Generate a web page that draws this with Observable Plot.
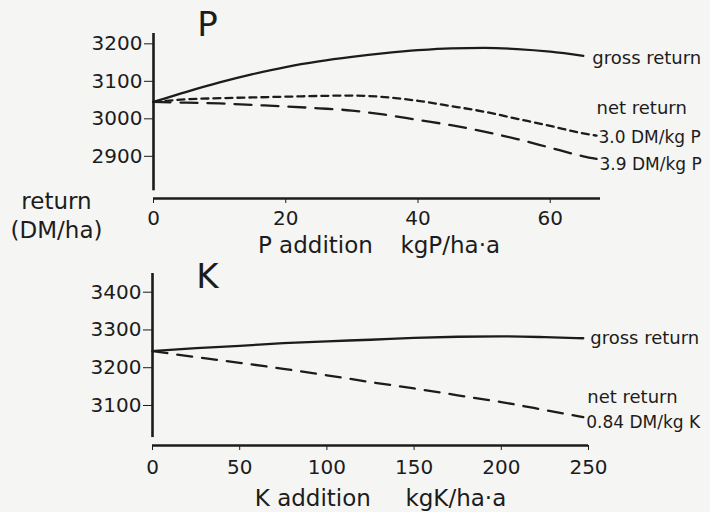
<!DOCTYPE html>
<html>
<head>
<meta charset="utf-8">
<script src="https://cdn.jsdelivr.net/npm/d3@7"></script>
<script src="https://cdn.jsdelivr.net/npm/@observablehq/plot@0.6"></script>
<style>
  html, body { margin: 0; padding: 0; background: #f5f5f3; }
  #chart { width: 710px; height: 512px; background: #f5f5f3; }
  #chart svg { display: block; overflow: visible; }
</style>
</head>
<body>
<div id="chart"></div>
<script>
// ---- P panel data ----
const pAddition = [0, 5, 10, 15, 20, 25, 30, 35, 40, 45, 50, 55, 60, 65];
const pGrossReturn = [3045, 3072, 3097, 3119, 3138, 3153, 3165, 3175, 3183, 3188, 3189, 3186, 3179, 3168];
const pNetAddition = [0, 5, 10, 15, 20, 25, 30, 35, 40, 45, 50, 55, 60, 65, 67];
const pNetReturn30 = [3045, 3052, 3055, 3057, 3059, 3061, 3062, 3058, 3048, 3034, 3019, 3000, 2981, 2961, 2955];
const pNetReturn39 = [3045, 3043, 3041, 3037, 3033, 3028, 3022, 3011, 2997, 2983, 2966, 2946, 2923, 2900, 2893];
const pXTicks = [0, 20, 40, 60];
const pYTicks = [2900, 3000, 3100, 3200];
const pXDomain = [0, 67.6];
const pYDomain = [2787.5, 3227.5];
const pYAxisBottom = 2808;

// ---- K panel data ----
const kAddition = [0, 25, 50, 75, 100, 125, 150, 175, 200, 225, 247];
const kGrossReturn = [3244, 3252, 3258, 3265, 3270, 3274, 3279, 3282, 3283, 3281, 3278];
const kNetReturn = [3244, 3228, 3213, 3197, 3180, 3162, 3145, 3127, 3109, 3088, 3069];
const kXTicks = [0, 50, 100, 150, 200, 250];
const kYTicks = [3100, 3200, 3300, 3400];
const kXDomain = [0, 250];
const kYDomain = [2994, 3449.5];
const kYAxisBottom = 3015;

const ink = "#1c1c1c";
const font = "DejaVu Sans";

const rows = (xs, ys) => xs.map((x, i) => ({x, y: ys[i]}));
const last = (xs, ys) => [{x: xs[xs.length - 1], y: ys[ys.length - 1]}];

const pGross = rows(pAddition, pGrossReturn);
const pNet30 = rows(pNetAddition, pNetReturn30);
const pNet39 = rows(pNetAddition, pNetReturn39);
const kGross = rows(kAddition, kGrossReturn);
const kNet = rows(kAddition, kNetReturn);

const fmt = d => String(d);

const plotP = Plot.plot({
  width: 710,
  height: 264,
  marginLeft: 153,
  marginRight: 110,
  marginTop: 33,
  marginBottom: 66,
  style: {fontFamily: font, fontSize: "20px", background: "transparent", color: ink},
  x: {domain: pXDomain, ticks: pXTicks, tickFormat: fmt, tickSize: 5, tickPadding: 7, label: null},
  y: {domain: pYDomain, ticks: pYTicks, tickFormat: fmt, tickSize: 9, tickPadding: 2, label: null},
  marks: [
    Plot.ruleX([0], {y1: pYAxisBottom, y2: pYDomain[1], stroke: ink, strokeWidth: 2.6}),
    Plot.ruleY([pYDomain[0]], {stroke: ink, strokeWidth: 2.6}),
    Plot.line(pGross, {x: "x", y: "y", stroke: ink, strokeWidth: 2.3, curve: "monotone-x"}),
    Plot.line(pNet30, {x: "x", y: "y", stroke: ink, strokeWidth: 2.3, strokeDasharray: "7,5", curve: "monotone-x"}),
    Plot.line(pNet39, {x: "x", y: "y", stroke: ink, strokeWidth: 2.3, strokeDasharray: "17,10", curve: "monotone-x"}),
    Plot.text(last(pAddition, pGrossReturn), {x: "x", y: "y", text: () => "gross return", dx: 9, dy: 2, textAnchor: "start", fontSize: 18, fill: ink}),
    Plot.text(last(pNetAddition, pNetReturn30), {x: "x", y: "y", text: () => "net return", dx: 0, dy: -27, textAnchor: "start", fontSize: 18, fill: ink}),
    Plot.text(last(pNetAddition, pNetReturn30), {x: "x", y: "y", text: () => "3.0 DM/kg P", dx: 2, dy: 2, textAnchor: "start", fontSize: 17, fill: ink}),
    Plot.text(last(pNetAddition, pNetReturn39), {x: "x", y: "y", text: () => "3.9 DM/kg P", dx: 3, dy: 6, textAnchor: "start", fontSize: 17, fill: ink}),
    Plot.text(["P"], {frameAnchor: "top-left", dx: 54, dy: -8, text: d => d, fontSize: 34, textAnchor: "middle", lineAnchor: "middle", fill: ink}),
    Plot.text(["return\n(DM/ha)"], {frameAnchor: "bottom-left", dx: -97, dy: 16, text: d => d, fontSize: 23, lineHeight: 1.22, textAnchor: "middle", lineAnchor: "middle", fill: ink}),
    Plot.text(["P addition\u2003\u2009kgP/ha·a"], {frameAnchor: "bottom", dx: 2, dy: 47, text: d => d, fontSize: 23, textAnchor: "middle", lineAnchor: "middle", fill: ink})
  ]
});

const plotK = Plot.plot({
  width: 710,
  height: 248,
  marginLeft: 152,
  marginRight: 122,
  marginTop: 9,
  marginBottom: 67,
  style: {fontFamily: font, fontSize: "20px", background: "transparent", color: ink},
  x: {domain: kXDomain, ticks: kXTicks, tickFormat: fmt, tickSize: 5, tickPadding: 9, label: null},
  y: {domain: kYDomain, ticks: kYTicks, tickFormat: fmt, tickSize: 9, tickPadding: 2, label: null},
  marks: [
    Plot.ruleX([0], {y1: kYAxisBottom, y2: kYDomain[1], stroke: ink, strokeWidth: 2.6}),
    Plot.ruleY([kYDomain[0]], {stroke: ink, strokeWidth: 2.6}),
    Plot.line(kGross, {x: "x", y: "y", stroke: ink, strokeWidth: 2.3, curve: "monotone-x"}),
    Plot.line(kNet, {x: "x", y: "y", stroke: ink, strokeWidth: 2.3, strokeDasharray: "15,10", curve: "monotone-x"}),
    Plot.text(last(kAddition, kGrossReturn), {x: "x", y: "y", text: () => "gross return", dx: 7, dy: 0, textAnchor: "start", fontSize: 18, fill: ink}),
    Plot.text(last(kAddition, kNetReturn), {x: "x", y: "y", text: () => "net return", dx: 4, dy: -20, textAnchor: "start", fontSize: 18, fill: ink}),
    Plot.text(last(kAddition, kNetReturn), {x: "x", y: "y", text: () => "0.84 DM/kg K", dx: 3, dy: 5, textAnchor: "start", fontSize: 17, fill: ink}),
    Plot.text(["K"], {frameAnchor: "top-left", dx: 55, dy: 4, text: d => d, fontSize: 34, textAnchor: "middle", lineAnchor: "middle", fill: ink}),
    Plot.text(["K addition\u2003\u2002kgK/ha·a"], {frameAnchor: "bottom", dx: 10, dy: 53, text: d => d, fontSize: 23, textAnchor: "middle", lineAnchor: "middle", fill: ink})
  ]
});

const chart = document.getElementById("chart");
chart.appendChild(plotP);
chart.appendChild(plotK);
</script>
</body>
</html>
